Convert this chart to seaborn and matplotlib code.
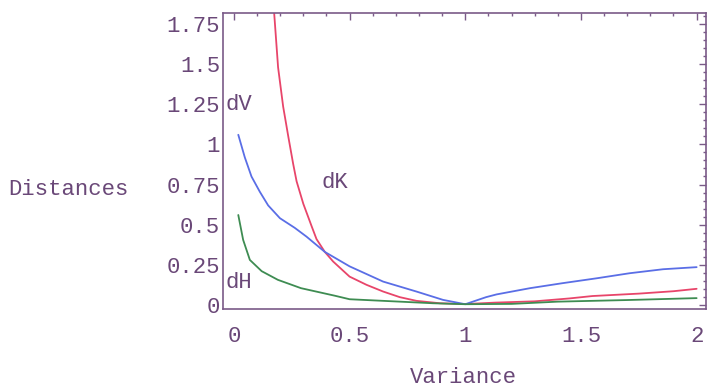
import numpy as np
import pandas as pd
import matplotlib
matplotlib.use("Agg")
import matplotlib.pyplot as plt
import seaborn as sns
from matplotlib.ticker import MultipleLocator

# Data
dK_x = [0.165, 0.174, 0.191, 0.213, 0.235, 0.256, 0.271, 0.30, 0.336, 0.357, 0.393, 0.429, 0.50,
        0.573, 0.645, 0.717, 0.789, 0.89, 1.0, 1.13, 1.3, 1.45, 1.55, 1.75, 1.9, 2.0]
dK_y = [2.0, 1.82, 1.48, 1.235, 1.05, 0.88, 0.77, 0.63, 0.49, 0.41, 0.33, 0.27, 0.176,
        0.125, 0.083, 0.048, 0.025, 0.01, 0.005, 0.014, 0.022, 0.04, 0.055, 0.07, 0.085, 0.1]
dV_x = [0.019, 0.047, 0.076, 0.112, 0.148, 0.199, 0.263, 0.314, 0.393, 0.50, 0.645, 0.789,
        0.904, 1.0, 1.09, 1.135, 1.28, 1.42, 1.57, 1.71, 1.855, 2.0]
dV_y = [1.06, 0.92, 0.80, 0.705, 0.62, 0.54, 0.48, 0.425, 0.33, 0.24, 0.145, 0.083,
        0.031, 0.004, 0.048, 0.065, 0.104, 0.135, 0.166, 0.197, 0.222, 0.235]
dH_x = [0.019, 0.04, 0.069, 0.12, 0.19, 0.29, 0.436, 0.50, 0.717, 0.86, 1.0, 1.2, 1.4, 1.7, 2.0]
dH_y = [0.56, 0.405, 0.28, 0.21, 0.156, 0.104, 0.057, 0.035, 0.02, 0.01, 0.004, 0.006, 0.02, 0.03, 0.042]

series_names = ["dK", "dV", "dH"]
colors = {"dK": "#e8456a", "dV": "#5a6ee6", "dH": "#3e8c52"}
label_pos = {"dV": (-0.035, 1.25), "dK": (0.38, 0.76), "dH": (-0.035, 0.14)}

df = pd.concat([
    pd.DataFrame({"x": dK_x, "y": dK_y, "s": "dK"}),
    pd.DataFrame({"x": dV_x, "y": dV_y, "s": "dV"}),
    pd.DataFrame({"x": dH_x, "y": dH_y, "s": "dH"}),
])

sns.set_style("white")
plt.rcParams["font.family"] = ["Liberation Mono", "DejaVu Sans Mono"]
txt = "#6a4878"
frame = "#7a5a88"
fs = 16

fig = plt.figure(figsize=(7.08, 3.89), dpi=100)
ax = fig.add_axes([0.315, 0.206, 0.682, 0.761])

sns.lineplot(data=df, x="x", y="y", hue="s", palette=colors, sort=False,
             estimator=None, legend=False, linewidth=1.3, ax=ax)

ax.set_xlim(-0.047, 2.04)
ax.set_ylim(-0.025, 1.82)
ax.xaxis.set_minor_locator(MultipleLocator(0.1))
ax.yaxis.set_minor_locator(MultipleLocator(0.05))

ax.set_xticks([0, 0.5, 1, 1.5, 2])
ax.set_xticklabels(["0", "0.5", "1", "1.5", "2"])
ax.set_yticks([0, 0.25, 0.5, 0.75, 1, 1.25, 1.5, 1.75])
ax.set_yticklabels(["0", "0.25", "0.5", "0.75", "1", "1.25", "1.5", "1.75"])

ax.tick_params(which="both", direction="in", top=True, right=True,
               color=frame, labelcolor=txt, labelsize=fs, width=1)
ax.tick_params(which="major", length=5, pad=2)
ax.tick_params(which="minor", length=2.5)
ax.tick_params(axis="x", which="major", pad=12)
for sp in ax.spines.values():
    sp.set_color(frame)
    sp.set_linewidth(1.2)

for name in series_names:
    x, y = label_pos[name]
    ax.text(x, y, name, color=txt, fontsize=fs, ha="left", va="center")

ax.set_xlabel("")
ax.set_ylabel("")
fig.text(0.012, 0.512, "Distances", color=txt, fontsize=fs, ha="left", va="center")
fig.text(0.655, 0.03, "Variance", color=txt, fontsize=fs, ha="center", va="center")

fig.savefig("out.png", dpi=100)
